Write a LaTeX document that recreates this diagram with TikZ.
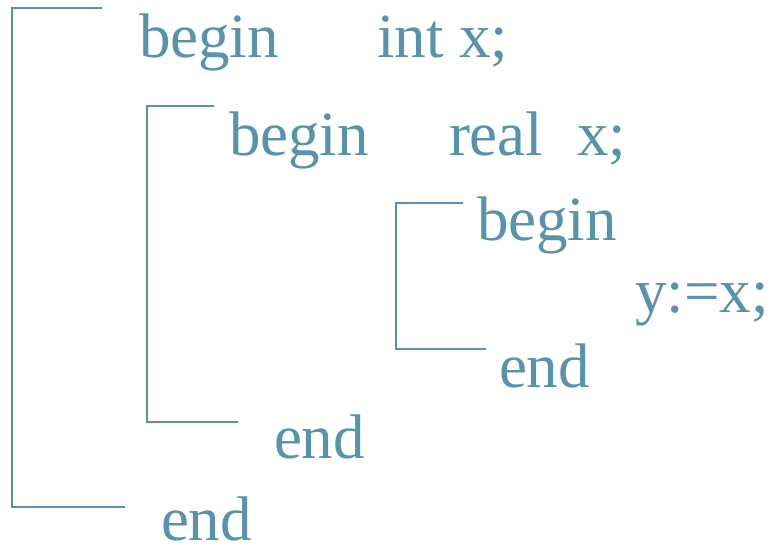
\documentclass[tikz,border=0pt]{standalone}
\usepackage{fontspec}
\setmainfont{Liberation Serif}
\definecolor{codeblue}{RGB}{87,147,170}
\begin{document}
\begin{tikzpicture}[x=1pt,y=-1pt,
  code/.style={anchor=base west,inner sep=0pt,outer sep=0pt,text=codeblue,font=\fontsize{63}{70}\selectfont},
  bracket/.style={draw=codeblue,line width=2.4pt}]
\useasboundingbox (0,0) rectangle (772,546);
% outer block
\draw[bracket] (102,8) -- (12,8) -- (12,507) -- (125,507);
\node[code] (b1) at (139,57) {begin};
\node[code] (d1) at (377,57) {int x;};
\node[code] (e1) at (161,540) {end};
% middle block
\draw[bracket] (214,106) -- (147,106) -- (147,422) -- (238,422);
\node[code] (b2) at (229,155) {begin};
\node[code] (d2) at (449,155) {real\hspace{34pt}x;};
\node[code] (e2) at (274,458) {end};
% inner block
\draw[bracket] (463,203) -- (396,203) -- (396,349) -- (486,349);
\node[code] (b3) at (477,240) {begin};
\node[code] (s3) at (635,312) {y:=x;};
\node[code] (e3) at (499,387) {end};
\end{tikzpicture}
\end{document}
